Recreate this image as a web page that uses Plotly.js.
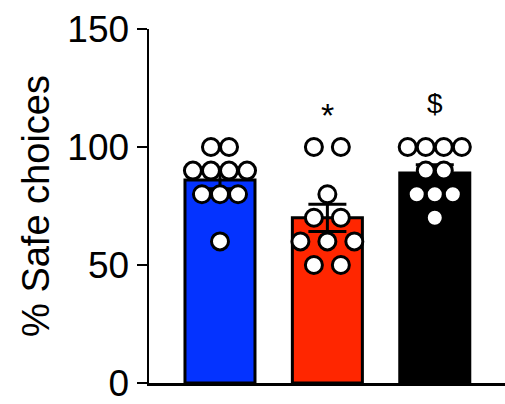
<!DOCTYPE html>
<html>
<head>
<meta charset="utf-8">
<script src="https://cdn.plot.ly/plotly-3.0.1.min.js"></script>
<style>html,body{margin:0;padding:0;background:#fff;}#chart{width:505px;height:404px;}</style>
</head>
<body>
<div id="chart"></div>
<script>
// ---- data ----
const groups = ["Group 1", "Group 2", "Group 3"];
const group1 = [100, 100, 90, 90, 90, 90, 80, 80, 80, 60];
const group2 = [100, 100, 80, 70, 70, 60, 60, 60, 50, 50];
const group3 = [100, 100, 100, 100, 90, 90, 80, 80, 80, 70];
const sigLabels = ["", "*", "$"];
const yTicks = [0, 50, 100, 150];

// ---- styling / layout constants ----
const barColors = ["#0433FF", "#FF2600", "#000000"];
const swarmSpacing = [0.168, 0.251, 0.168];
const sigY = [0, 113.5, 118.5];
const sigSize = [0, 34, 28];
const fontFam = "Arial, 'Liberation Sans', Helvetica, sans-serif";

const series = [group1, group2, group3];
const mean = a => a.reduce((s, v) => s + v, 0) / a.length;
const sem = a => {
  const m = mean(a);
  const v = a.reduce((s, x) => s + (x - m) * (x - m), 0) / (a.length - 1);
  return Math.sqrt(v) / Math.sqrt(a.length);
};
function swarm(vals, center, spacing) {
  const counts = {}, seen = {};
  vals.forEach(v => counts[v] = (counts[v] || 0) + 1);
  return vals.map(v => {
    const k = seen[v] || 0; seen[v] = k + 1;
    return center + (k - (counts[v] - 1) / 2) * spacing;
  });
}

const xIdx = groups.map((g, i) => i);
const traces = [{
  type: "bar",
  x: xIdx,
  y: series.map(mean),
  width: 0.652,
  marker: { color: barColors, line: { color: "#000", width: 3 } },
  error_y: { type: "data", array: series.map(sem), visible: true, color: "#000", thickness: 3, width: 19 },
  hoverinfo: "skip"
}];
series.forEach((s, i) => {
  traces.push({
    type: "scatter", mode: "markers",
    x: swarm(s, i, swarmSpacing[i]), y: s,
    marker: { size: 17, color: "#fff", line: { color: "#000", width: 3 } },
    cliponaxis: false, name: groups[i]
  });
});

const annotations = sigLabels.map((t, i) => ({
  x: i, y: sigY[i], xref: "x", yref: "y", text: t, showarrow: false,
  yanchor: "middle", font: { family: fontFam, size: sigSize[i], color: "#000" }
})).filter(a => a.text);

const layout = {
  width: 505, height: 404,
  margin: { l: 149, r: 0, t: 29, b: 21, pad: 0 },
  paper_bgcolor: "#fff", plot_bgcolor: "#fff",
  showlegend: false,
  font: { family: fontFam, color: "#000" },
  xaxis: {
    range: [-0.661, 2.654], showline: true, linewidth: 2.5, linecolor: "#000",
    showticklabels: false, ticks: "", showgrid: false, zeroline: false, fixedrange: true
  },
  yaxis: {
    range: [0, 150], tickvals: yTicks, ticktext: yTicks.map(String),
    ticks: "outside", ticklen: 10, tickwidth: 2.5, tickcolor: "#000",
    showline: true, linewidth: 2.5, linecolor: "#000",
    showgrid: false, zeroline: false,
    tickfont: { family: fontFam, size: 37, color: "#000" },
    title: { text: "% Safe choices", font: { family: fontFam, size: 38, color: "#000" }, standoff: 6 }
  },
  annotations: annotations
};

Plotly.newPlot("chart", traces, layout, { displayModeBar: false, staticPlot: true });
</script>
</body>
</html>
